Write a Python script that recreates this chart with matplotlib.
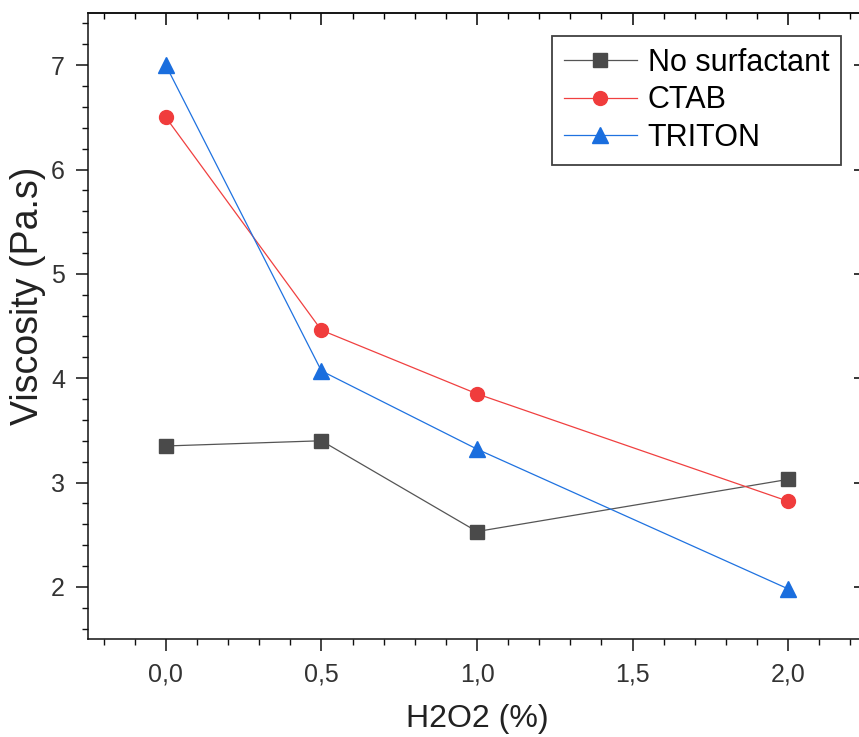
import numpy as np
import matplotlib.pyplot as plt
from matplotlib.ticker import MultipleLocator, FormatStrFormatter

plt.rcParams['font.family'] = ['Liberation Sans', 'DejaVu Sans']

# data
h2o2 = [0.0, 0.5, 1.0, 2.0]
no_surf = [3.35, 3.40, 2.53, 3.03]
ctab = [6.50, 4.46, 3.85, 2.82]
triton = [7.00, 4.07, 3.32, 1.98]

series_names = ["No surfactant", "CTAB", "TRITON"]

W, H = 859, 737
fig = plt.figure(figsize=(W / 100, H / 100), dpi=100)
# right spine sits just beyond the image edge, like the reference crop
ax = fig.add_axes([88 / W, (H - 639) / H, (866 - 88) / W, (639 - 13) / H])

ax.plot(h2o2, no_surf, color="#555555", lw=0.9, marker="s", ms=9.5,
        mfc="#4a4a4a", mec="#4a4a4a", label=series_names[0])
ax.plot(h2o2, ctab, color="#f04040", lw=0.9, marker="o", ms=10,
        mfc="#f03c3c", mec="#f03c3c", label=series_names[1])
ax.plot(h2o2, triton, color="#1f72e0", lw=0.9, marker="^", ms=12,
        mfc="#1a6ede", mec="#1a6ede", label=series_names[2])

ax.set_xlim(-0.25, 2.25)
ax.set_ylim(1.5, 7.5)

ax.xaxis.set_major_locator(MultipleLocator(0.5))
ax.xaxis.set_minor_locator(MultipleLocator(0.1))
ax.yaxis.set_major_locator(MultipleLocator(1))
ax.yaxis.set_minor_locator(MultipleLocator(0.2))
ax.xaxis.set_major_formatter(lambda v, p: f"{v:.1f}".replace(".", ","))
ax.yaxis.set_major_formatter(FormatStrFormatter("%d"))

for s in ax.spines.values():
    s.set_linewidth(1.1)
    s.set_color("#111111")

ax.tick_params(axis="both", which="major", length=8.6, width=1.1,
               labelsize=18, labelcolor="#333333", color="#111111", pad=8)
ax.tick_params(axis="both", which="minor", length=4.3, width=1.0, color="#111111")
ax.tick_params(axis="x", which="both", direction="out", top=False)
ax.tick_params(axis="y", which="both", direction="out", right=False)
# top ticks point inward
sec_x = ax.secondary_xaxis("top")
sec_x.xaxis.set_major_locator(MultipleLocator(0.5))
sec_x.xaxis.set_minor_locator(MultipleLocator(0.1))
sec_x.tick_params(which="major", direction="in", length=8.6, width=1.1, labeltop=False)
sec_x.tick_params(which="minor", direction="in", length=4.3, width=1.0)
sec_x.spines["top"].set_linewidth(1.1)
# right ticks inward, majors only
sec_y = ax.secondary_yaxis("right")
sec_y.yaxis.set_major_locator(MultipleLocator(1))
sec_y.yaxis.set_minor_locator(plt.NullLocator())
sec_y.tick_params(which="major", direction="in", length=8.6, width=1.1, labelright=False)

fig.text(477 / W, 1 - 719 / H, "H2O2 (%)", fontsize=23, color="#222222",
         ha="center", va="center")
fig.text(28 / W, 1 - 296 / H, "Viscosity (Pa.s)", fontsize=27, color="#222222",
         ha="center", va="center", rotation=90)

leg = ax.legend(loc="upper left", bbox_to_anchor=(552 / W, 1 - 36 / H),
                bbox_transform=fig.transFigure, borderaxespad=0,
                fontsize=22, frameon=True, fancybox=False, edgecolor="#111111",
                handlelength=2.4, handletextpad=0.35, labelspacing=0.25,
                borderpad=0.38)
leg.get_frame().set_linewidth(1.3)

fig.savefig("out.png", dpi=100)
